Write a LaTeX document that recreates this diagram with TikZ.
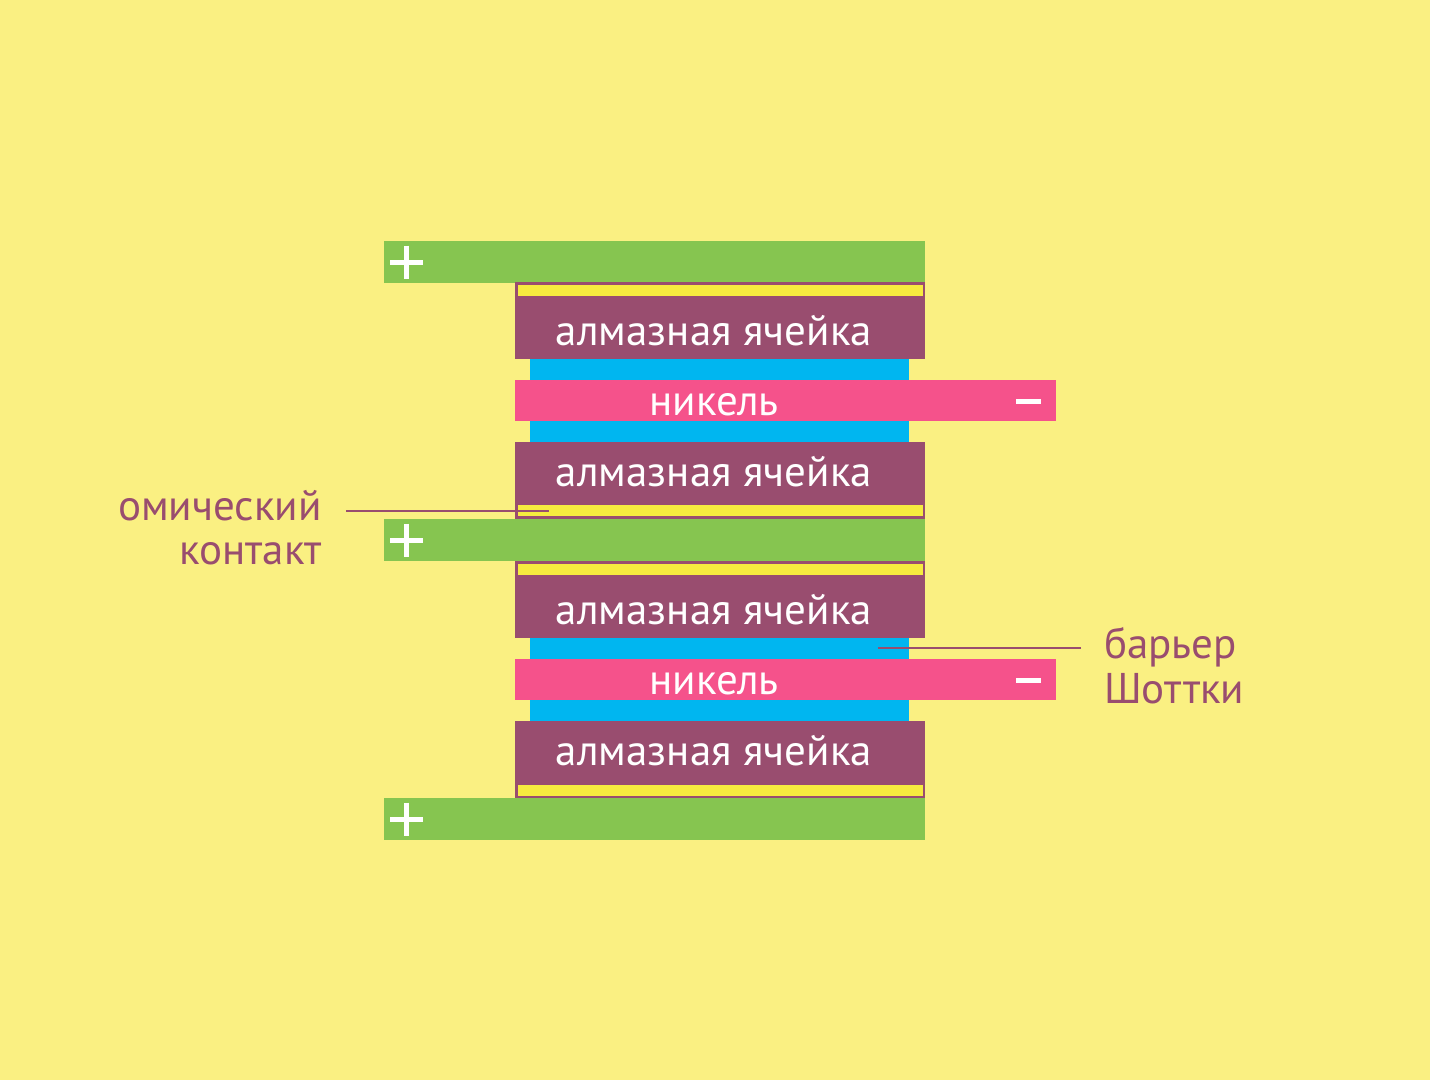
\documentclass[tikz,border=0pt]{standalone}
\usepackage{fontspec}
\setmainfont{PT Sans}
\definecolor{bg}{HTML}{FAF082}
\definecolor{grn}{HTML}{86C550}
\definecolor{pur}{HTML}{994D6F}
\definecolor{blu}{HTML}{00B6F0}
\definecolor{pnk}{HTML}{F5528B}
\definecolor{ylw}{HTML}{F6EB3F}
\tikzset{
  celltext/.style={anchor=base, text=white, font=\fontsize{43}{43}\selectfont, inner sep=0pt},
  labeltext/.style={text=pur, font=\fontsize{43}{45}\selectfont, inner sep=0pt},
  leader/.style={draw=pur, line width=2pt},
  sign/.style={draw=white, line width=5pt},
}
\begin{document}
\begin{tikzpicture}[x=1pt,y=-1pt]
\fill[bg] (0,0) rectangle (1430,1080);
\useasboundingbox (0,0) rectangle (1430,1080);
% blue layers
\fill[blu] (530,355) rectangle (909,447);
\fill[blu] (530,633) rectangle (909,726);
% green electrodes
\foreach \y/\n in {241/g1,519/g2,798/g3}{
  \fill[grn] (384,\y) rectangle (925,\y+42);
  \draw[sign] (390,\y+21) -- (423,\y+21);
  \draw[sign] (406.5,\y+4.5) -- (406.5,\y+37.5);
}
% diamond cells
\foreach \t/\s in {282/284, 442/504, 561/563, 721/784}{
  \fill[pur] (515,\t) rectangle (925,\t+77);
  \fill[ylw] (517.5,\s+1) rectangle (922.5,\s+12);
}
% nickel
\foreach \y in {380,659}{
  \fill[pnk] (515,\y) rectangle (1056,\y+41);
  \draw[sign] (1016,\y+21) -- (1041,\y+21);
}
\node[celltext] (c1) at (714,345) {алмазная ячейка};
\node[celltext] (c2) at (714,486) {алмазная ячейка};
\node[celltext] (c3) at (714,624) {алмазная ячейка};
\node[celltext] (c4) at (714,765) {алмазная ячейка};
\node[celltext] (n1) at (714,415) {никель};
\node[celltext] (n2) at (714,694) {никель};
% labels
\node[labeltext, anchor=base east] (om1) at (322,520) {омический};
\node[labeltext, anchor=base east] (om2) at (322,564) {контакт};
\node[labeltext, anchor=base west] (sb1) at (1104,658) {барьер};
\node[labeltext, anchor=base west] (sb2) at (1104,703) {Шоттки};
\coordinate (oa) at (346,511);
\coordinate (ob) at (549,511);
\coordinate (sa) at (1081,648);
\coordinate (sbb) at (878,648);
\draw[leader] (oa) -- (ob);
\draw[leader] (sa) -- (sbb);
\end{tikzpicture}
\end{document}
